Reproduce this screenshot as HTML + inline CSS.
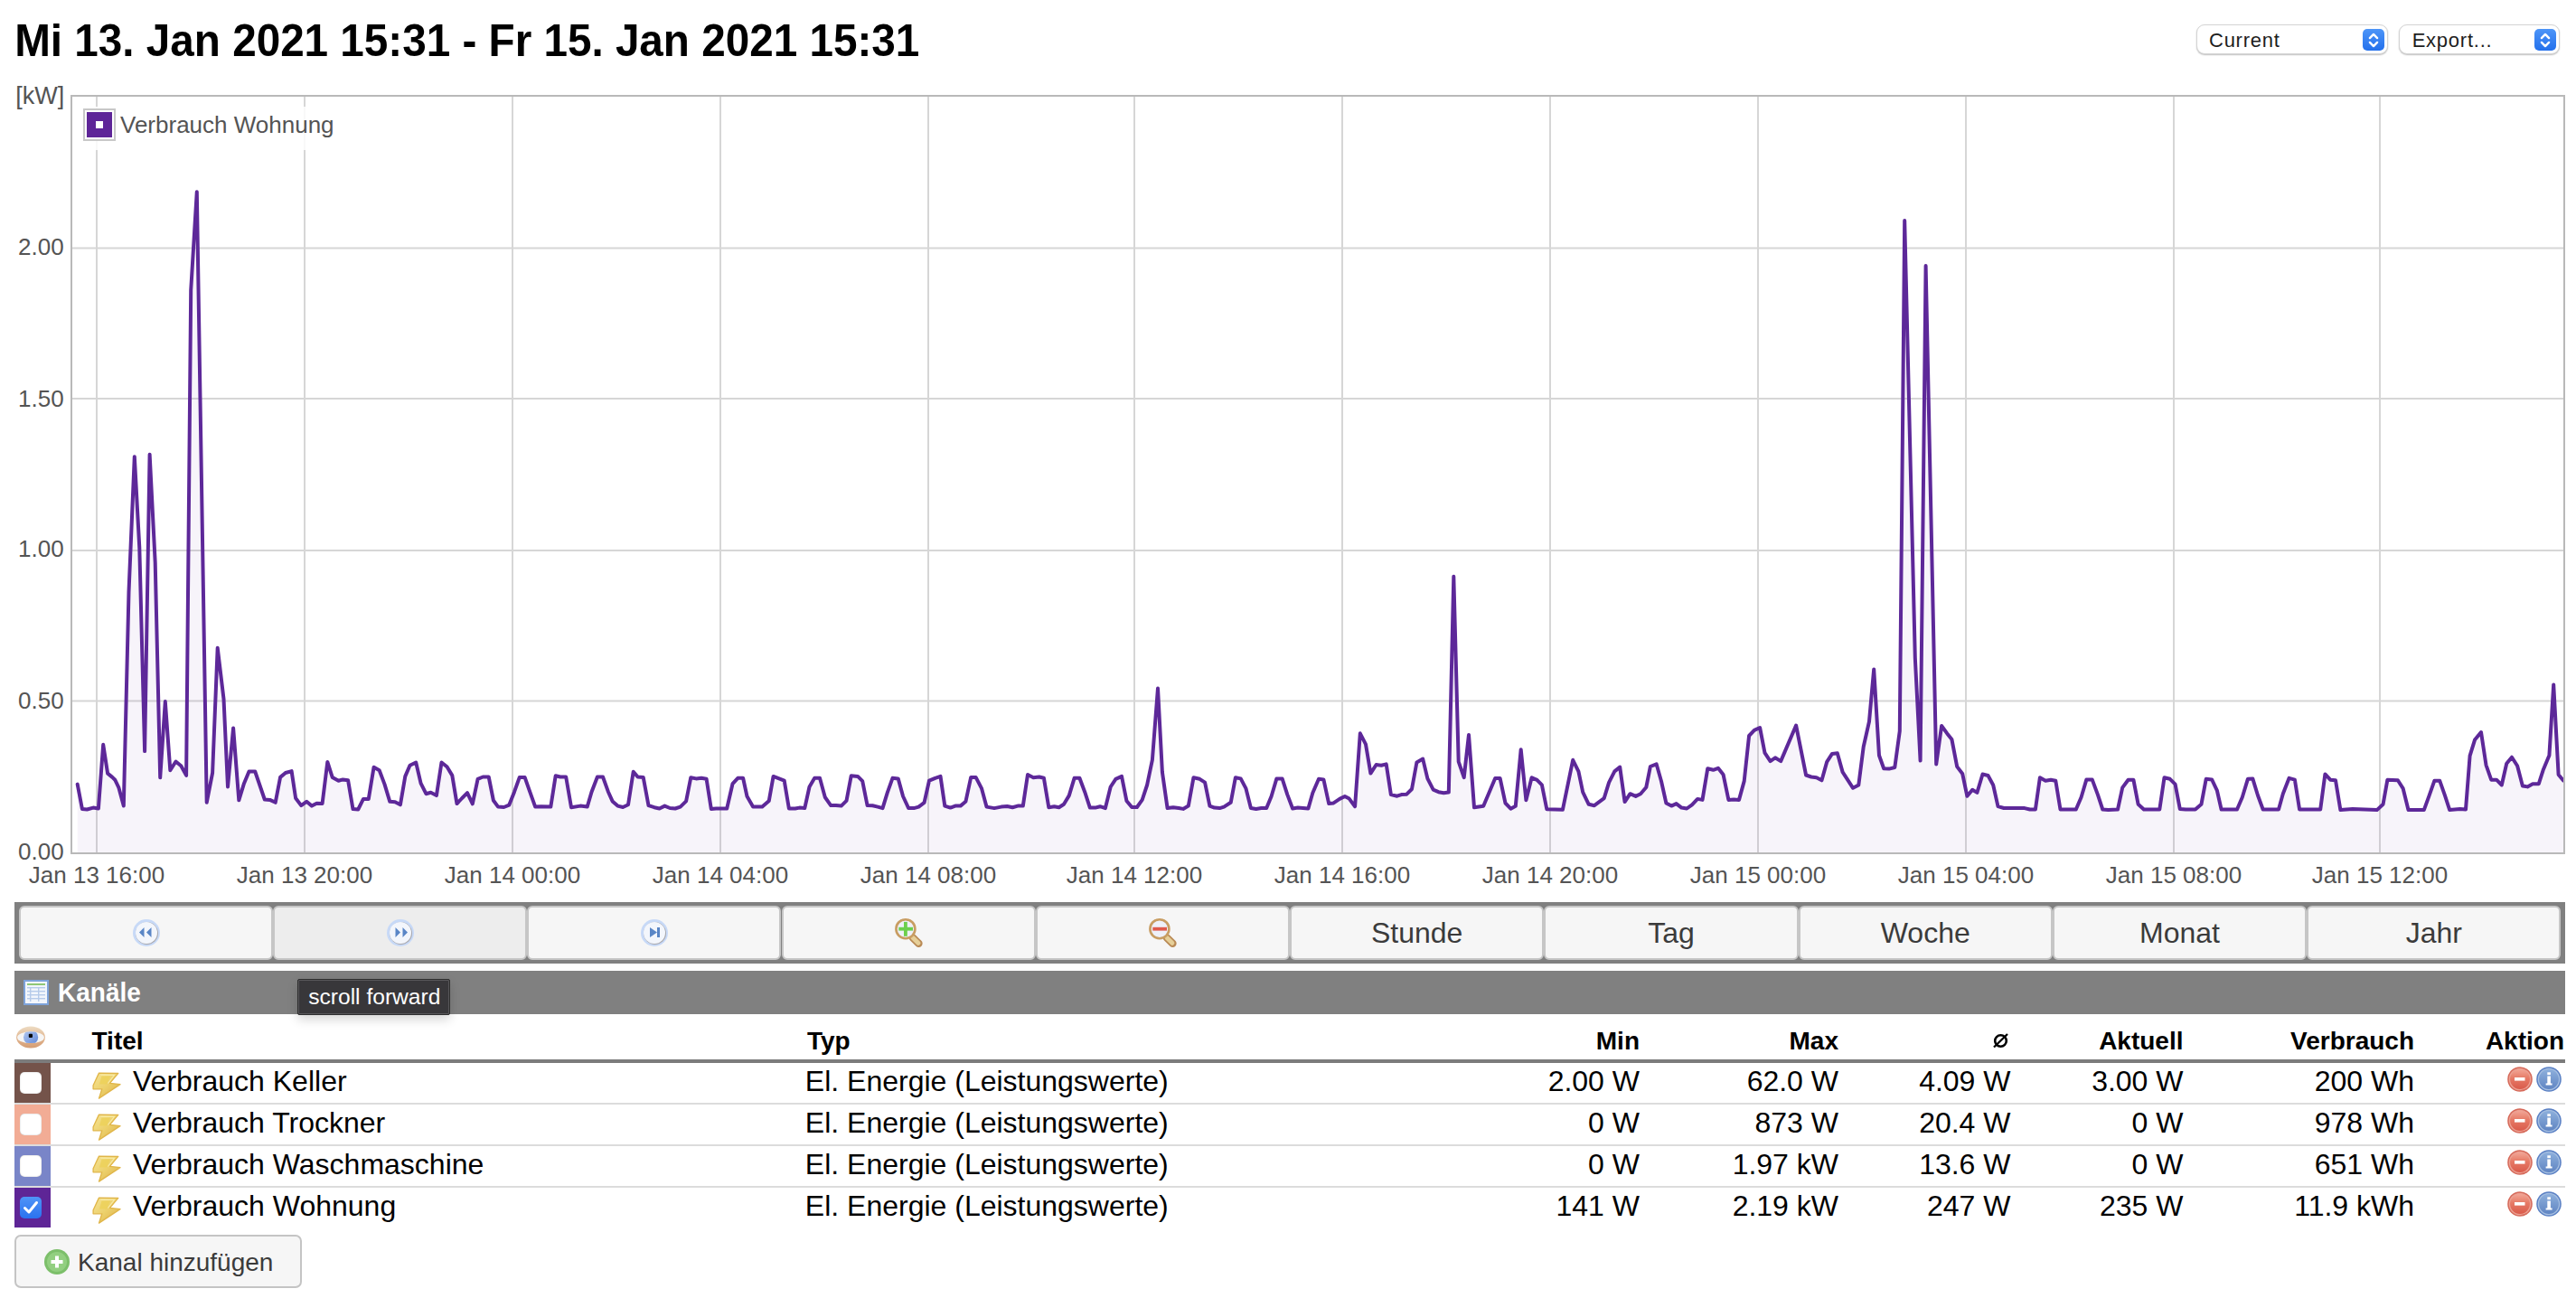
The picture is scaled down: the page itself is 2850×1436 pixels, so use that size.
<!DOCTYPE html>
<html lang="de">
<head>
<meta charset="utf-8">
<title>Volkszähler</title>
<style>
html,body{margin:0;padding:0;background:#fff;}
@media (max-width:2000px){html{zoom:0.5;}}
body{width:2850px;height:1436px;position:relative;overflow:hidden;font-family:"Liberation Sans",Arial,Helvetica,sans-serif;color:#000;}
.abs{position:absolute;}
.title{position:absolute;left:16.2px;top:22.3px;font-size:47.65px;line-height:47.65px;transform:scaleY(1.06);transform-origin:0 40.5px;font-weight:bold;white-space:nowrap;color:#000;}
.sel{position:absolute;top:27.4px;height:33px;border-radius:9px;background:#fff;border:1px solid #d4d4d4;box-shadow:0 1px 1.5px rgba(0,0,0,0.25);box-sizing:border-box;}
.sel .st{position:absolute;top:5.9px;font-size:22px;line-height:22px;letter-spacing:0.75px;color:#1d1d1d;transform:scaleY(1.03);transform-origin:0 18.6px;white-space:nowrap;}
.sel .sb{position:absolute;top:3.4px;width:24px;height:24px;border-radius:5px;background:linear-gradient(#4d95f8,#2370ec);}
.chart{position:absolute;left:0;top:0;}
.bar{position:absolute;left:16px;top:998px;width:2822px;height:68px;background:#808080;}
.btn{position:absolute;top:1002px;width:281.29px;height:59.6px;box-sizing:border-box;border:2px solid #c6c6c6;border-radius:6px;background:#f6f6f6;}
.btn.hov{background:#ededed;}
.btn .bt{position:absolute;left:0;right:0;top:12px;text-align:center;font-size:32px;line-height:32px;color:#3b3b3b;}
.btn .bi{position:absolute;left:122px;top:11px;width:34px;height:34px;}
.btn .bi svg{display:block;}
.kbar{position:absolute;left:16px;top:1074px;width:2822px;height:48px;background:#808080;}
.kbar .ti{position:absolute;left:10px;top:10px;}
.kbar .kt{position:absolute;left:48px;top:10.6px;font-size:28px;line-height:28px;font-weight:bold;color:#fff;transform:scaleY(1.05);transform-origin:0 24px;}
.tip{position:absolute;left:329.2px;top:1083.2px;width:169.3px;height:39.4px;box-sizing:border-box;background:#38373a;border:1px solid #2e2e2e;border-radius:2px;box-shadow:inset 0 0 0 1px #58575a,0 5px 12px rgba(0,0,0,0.16);}
.tip span{position:absolute;left:11px;top:6.9px;font-size:24.6px;line-height:24.6px;color:#fff;white-space:nowrap;}
.eye{position:absolute;left:17px;top:1135px;}
.th{position:absolute;top:1138.2px;font-size:28px;line-height:28px;font-weight:bold;white-space:nowrap;}
.r{text-align:right;}
.hline{position:absolute;left:16px;top:1172px;width:2822px;height:4px;background:#7c7c7c;}
.sw{position:absolute;left:16px;width:40px;height:44px;}
.sw svg,.sw .cbx{position:absolute;left:6px;top:10px;}
.cbx{width:24px;height:24px;border-radius:5px;background:#fff;box-shadow:inset 0 0 1.5px rgba(0,0,0,0.35);}
.sep{position:absolute;left:16px;width:2822px;height:2px;background:#dcdcdc;}
.bolt{position:absolute;left:101.5px;}
.bolt svg,.act svg{display:block;}
.t32{position:absolute;font-size:32px;line-height:32px;white-space:nowrap;color:#000;}
.act{position:absolute;}
.addbtn{position:absolute;left:16px;top:1366px;width:318px;height:58.5px;box-sizing:border-box;border:2px solid #c4c4c4;border-radius:7px;background:#f6f6f6;}
.addbtn .pi{position:absolute;left:29.5px;top:12.5px;}
.addbtn .pi svg{display:block;}
.addbtn .at{position:absolute;left:68px;top:14.8px;font-size:28px;line-height:28px;color:#3b3b3b;white-space:nowrap;}
</style>
</head>
<body>
<div class="title">Mi 13. Jan 2021 15:31 - Fr 15. Jan 2021 15:31</div>

<div class="sel" style="left:2430px;width:212px;"><span class="st" style="left:13px">Current</span><span class="sb" style="left:183px"><svg width="24" height="24" viewBox="0 0 24 24"><path d="M7.9 10.1 L12 5.9 L16.1 10.1 M7.9 14.9 L12 19.1 L16.1 14.9" fill="none" stroke="#fff" stroke-width="2.4" stroke-linecap="round" stroke-linejoin="round"/></svg></span></div>
<div class="sel" style="left:2654px;width:178px;"><span class="st" style="left:13.7px">Export...</span><span class="sb" style="left:149px"><svg width="24" height="24" viewBox="0 0 24 24"><path d="M7.9 10.1 L12 5.9 L16.1 10.1 M7.9 14.9 L12 19.1 L16.1 14.9" fill="none" stroke="#fff" stroke-width="2.4" stroke-linecap="round" stroke-linejoin="round"/></svg></span></div>

<svg class="chart" width="2850" height="1000" viewBox="0 0 2850 1000">
<line x1="107.0" y1="106" x2="107.0" y2="944" stroke="#d6d6d6" stroke-width="2"/>
<line x1="337.0" y1="106" x2="337.0" y2="944" stroke="#d6d6d6" stroke-width="2"/>
<line x1="567.0" y1="106" x2="567.0" y2="944" stroke="#d6d6d6" stroke-width="2"/>
<line x1="797.0" y1="106" x2="797.0" y2="944" stroke="#d6d6d6" stroke-width="2"/>
<line x1="1027.0" y1="106" x2="1027.0" y2="944" stroke="#d6d6d6" stroke-width="2"/>
<line x1="1255.0" y1="106" x2="1255.0" y2="944" stroke="#d6d6d6" stroke-width="2"/>
<line x1="1485.0" y1="106" x2="1485.0" y2="944" stroke="#d6d6d6" stroke-width="2"/>
<line x1="1715.0" y1="106" x2="1715.0" y2="944" stroke="#d6d6d6" stroke-width="2"/>
<line x1="1945.0" y1="106" x2="1945.0" y2="944" stroke="#d6d6d6" stroke-width="2"/>
<line x1="2175.0" y1="106" x2="2175.0" y2="944" stroke="#d6d6d6" stroke-width="2"/>
<line x1="2405.0" y1="106" x2="2405.0" y2="944" stroke="#d6d6d6" stroke-width="2"/>
<line x1="2633.0" y1="106" x2="2633.0" y2="944" stroke="#d6d6d6" stroke-width="2"/>
<line x1="79" y1="775.5" x2="2837" y2="775.5" stroke="#d6d6d6" stroke-width="2"/>
<line x1="79" y1="609.0" x2="2837" y2="609.0" stroke="#d6d6d6" stroke-width="2"/>
<line x1="79" y1="441.0" x2="2837" y2="441.0" stroke="#d6d6d6" stroke-width="2"/>
<line x1="79" y1="274.4" x2="2837" y2="274.4" stroke="#d6d6d6" stroke-width="2"/>
<path d="M85.7 867.6 L90.9 894.9 L96.3 895.5 L103.1 893.6 L108.9 894.5 L114.2 823.8 L119.1 855.6 L124.3 859.9 L127.2 862.7 L131.4 871.4 L136.8 891.5 L142.5 655 L148.8 505.2 L154.3 606.2 L160.1 831.1 L165.6 502.7 L171.7 622.4 L177.2 860.3 L182.8 776.1 L188.3 852.2 L194.5 842.5 L200.3 847.3 L206.1 857.9 L211.2 321 L217.8 212.2 L228.7 887.8 L235.1 855 L240.7 716.8 L247.5 773.2 L252 870.5 L258.1 805.5 L264.3 885.3 L269.7 867.6 L275.5 853.5 L282.2 853.5 L292.8 884.5 L298.6 884.9 L304.7 887.8 L310.1 859.9 L315.9 855 L322.6 853.1 L327.1 883 L333.2 891.1 L339.2 886.8 L345 891.6 L350.4 888.7 L356.6 889.1 L362.3 842.9 L367.7 859.9 L374.5 863.7 L379.3 862.4 L385.1 863.3 L390.5 895.1 L396.2 895.5 L402 883.9 L407.8 883.9 L413.6 848.7 L419.7 852.2 L425.5 867.6 L431.3 886.8 L437.1 887.2 L442.9 890.3 L448.3 858.9 L453.5 846.8 L460.2 843.5 L465.6 866.6 L471.4 878.2 L476.6 876.8 L482.9 880.1 L488.5 843.5 L494.5 848.3 L500.3 857.9 L505.5 889.1 L511.2 883 L517 877.2 L522.8 889.3 L528.6 861.8 L534.3 859.5 L540.7 859.5 L545.9 885.5 L551.1 892.6 L557.5 893 L563.2 890.7 L569 876.2 L574.8 859.9 L580.6 859.9 L586.3 876.2 L592.2 892.6 L598.7 892.2 L609.3 892.6 L614.7 858.3 L619.9 859.5 L626.2 859.5 L632 893.2 L642 891.6 L649.7 892.6 L654.5 876.2 L660.9 859.5 L667 859.5 L672.8 875.7 L677.6 886.4 L683.4 891.6 L689.2 893 L695 890.3 L700.7 853.7 L705.6 859.5 L711.7 859.9 L717.5 891.1 L723.9 893.2 L729.6 894.5 L735.4 891.6 L741.2 894 L747 894.5 L752.7 892.6 L759.1 886.4 L764.3 860.2 L770.1 861.4 L775.9 860.8 L781.6 861.8 L786.8 894.9 L792.2 894.5 L804.2 894.5 L810.5 867.2 L816.3 860.8 L822.1 860.8 L826.5 881 L833.1 892.6 L843.3 892.6 L850.8 885.9 L855.6 858.9 L862 861.4 L867.7 863.7 L872.9 894.5 L879.7 894.5 L884.5 893.6 L890.3 894.1 L895.5 870.5 L901.2 860.8 L907 860.8 L912.8 882 L919.2 891.1 L924.9 891.1 L930.7 891.6 L936.5 885.9 L941.7 858.3 L949 858.9 L954.2 864.1 L959.6 891.1 L965.4 891.3 L971.2 892.6 L976.5 894.1 L981.7 877.2 L987.5 860.8 L993.7 861.4 L999.1 881 L1005.2 894.1 L1011 894.1 L1016.4 892.6 L1022.6 887.8 L1028 863.7 L1034.7 860.8 L1040.5 858.9 L1045.3 891.6 L1051.5 893.6 L1056.9 891.6 L1062.6 891.6 L1068.4 886.8 L1074.2 859.9 L1079.6 859.9 L1086.1 872.4 L1091.5 892.6 L1097.3 893.6 L1100 894.1 L1107.7 892.6 L1114.4 892 L1120.2 893.2 L1126 891.6 L1131.8 891.6 L1137 857 L1143.3 860.2 L1149.7 859.5 L1154.9 860.8 L1160.3 893.2 L1166.4 892.2 L1171.6 893.2 L1177 889.7 L1182.8 880.1 L1188.6 860.8 L1194.4 860.8 L1200.2 876.2 L1205.9 893.6 L1211.7 893.6 L1217.1 892.2 L1222.9 894.1 L1228.7 870.5 L1234.4 861.8 L1241 858.9 L1246.4 885.9 L1252.2 893 L1257.9 893 L1263.7 884.9 L1269.1 868.5 L1274.9 840.6 L1281 761.6 L1285.9 854.1 L1291.6 894.1 L1298 893.2 L1304.2 894.1 L1309 894.9 L1314.8 891.6 L1320.5 860.2 L1327.3 861.8 L1333.1 865.6 L1338.4 891.6 L1343.6 893.6 L1349.4 894.1 L1354.2 892.6 L1361.7 887.8 L1366.9 860.2 L1372.7 861.4 L1378.5 872.4 L1383.9 894.1 L1389.7 894.9 L1395.4 894.1 L1401.2 894.1 L1406.6 881 L1412.4 861.4 L1418.6 861.4 L1424.3 879.1 L1430.1 894.5 L1435.9 893.6 L1447.4 894.5 L1452.3 877.2 L1459 861.8 L1464.4 862.4 L1470.2 889.1 L1475.4 888.4 L1482.1 883.9 L1487.9 881 L1492.7 883.6 L1499.1 892.2 L1504.8 811.3 L1511 823.3 L1516.4 855.6 L1522.6 846 L1528.3 846.8 L1533.7 845.4 L1538.9 879.1 L1545.7 880.7 L1550.5 879.1 L1556.3 878.7 L1562 873 L1567.4 843.5 L1574.2 839.6 L1579.4 861.4 L1585.7 873.7 L1591.5 876.2 L1597.3 877.2 L1602.8 876.6 L1608.3 637.7 L1613.7 842.7 L1619.7 860.2 L1625 813 L1631 893.3 L1641.2 891.7 L1654.2 861 L1659.6 861 L1665.5 888.5 L1671.4 894.7 L1676.8 891.7 L1682.7 829.2 L1688.4 885.3 L1694.6 860.2 L1700.5 862.9 L1705.9 868.3 L1711.3 895.2 L1728.9 895.8 L1740.2 840.8 L1746.4 853.4 L1751.2 876.4 L1757.7 889.8 L1763.9 891.2 L1774.7 883.1 L1780.1 865.6 L1786.3 853.4 L1792.2 848.6 L1797.6 887.1 L1803.5 878.2 L1809.7 880.9 L1815.1 878.2 L1821.3 871 L1825.9 848 L1832.6 845.3 L1838 864.2 L1843.4 888.5 L1849.2 891.6 L1854.6 889.1 L1860.4 893.6 L1866.2 894.5 L1872 890.3 L1878.1 883.9 L1883.5 884.9 L1889.3 850.2 L1895.5 851.8 L1900.9 849.8 L1906.6 857 L1912.4 884.9 L1918.2 884.5 L1924 884.9 L1929.7 864.1 L1935.1 814 L1940.9 807.9 L1947.1 805 L1952.5 832.9 L1958.6 842.1 L1964 838.3 L1970.2 842.1 L1987.1 802.5 L1998.1 857.5 L2003.9 859.5 L2009.7 860.2 L2015.5 863.3 L2021.2 842.9 L2027 833.9 L2032.8 833.3 L2038.6 854.1 L2050.1 871.8 L2056.3 868.5 L2061.7 826.2 L2068 798.2 L2073.2 740.4 L2079 835.8 L2084.2 850.2 L2090 850.6 L2096.3 849 L2101.8 808.8 L2107.2 244 L2118.8 727.6 L2124.6 841.6 L2130.6 294 L2142.2 845.5 L2148.1 803 L2154.2 811.4 L2159.4 818 L2165.2 848.1 L2171.2 856 L2176.4 880.8 L2182.2 873.8 L2187.4 876.9 L2193.5 856.5 L2199.5 858 L2205.2 868.5 L2210.5 892.1 L2217 894 L2231.4 894 L2240 894.1 L2245.8 895.5 L2251.9 895.5 L2256.9 860.2 L2263.1 863.7 L2268.9 862.7 L2274.3 863.7 L2279.5 895.5 L2296.8 895.5 L2302.6 882 L2308.4 862.4 L2314.7 862.4 L2320.9 879.1 L2326.3 895.5 L2332.5 896.1 L2343 895.5 L2348.2 871.4 L2354.6 862.7 L2360.4 862.7 L2365.6 889.7 L2371.9 895.5 L2389.3 895.5 L2394.5 860.2 L2400.8 861.8 L2406.6 867.6 L2411.8 894.9 L2418.2 895.5 L2428.8 895.5 L2435.5 889.7 L2440.7 861.8 L2447.1 862.4 L2452.8 874.3 L2457.6 895.5 L2475 895.5 L2480.8 882 L2486.9 861.8 L2492.3 861.4 L2498 880 L2503.7 895.5 L2521 895.5 L2525.8 878.2 L2532.6 860.8 L2538.9 862.7 L2544.1 895.5 L2567.2 895.5 L2572.4 856.4 L2578.2 862.7 L2584 863.3 L2589.4 896.1 L2602.9 894.9 L2629.8 896.1 L2636.6 889.7 L2641.4 862.7 L2652.9 863.3 L2658.7 872.4 L2664.5 896.1 L2681.8 896.1 L2687.6 880.1 L2693.4 863.7 L2699.2 863.7 L2705 880.1 L2710.2 896.1 L2721.7 894.9 L2728 895.5 L2732.6 836.2 L2738 818.6 L2745 810 L2750.5 846.3 L2756.2 862.7 L2762 862.7 L2767.8 868.5 L2773.2 844.8 L2779 837.7 L2785.1 847.3 L2790.9 869.5 L2796.3 870.4 L2802.1 867.2 L2808.8 867.2 L2813.6 852.1 L2820.4 835.8 L2825.2 757.4 L2830.6 856.9 L2836 863.5 L2836 944 L85.7 944 Z" fill="#5e2a96" fill-opacity="0.052" stroke="none"/>
<path d="M85.7 867.6 L90.9 894.9 L96.3 895.5 L103.1 893.6 L108.9 894.5 L114.2 823.8 L119.1 855.6 L124.3 859.9 L127.2 862.7 L131.4 871.4 L136.8 891.5 L142.5 655 L148.8 505.2 L154.3 606.2 L160.1 831.1 L165.6 502.7 L171.7 622.4 L177.2 860.3 L182.8 776.1 L188.3 852.2 L194.5 842.5 L200.3 847.3 L206.1 857.9 L211.2 321 L217.8 212.2 L228.7 887.8 L235.1 855 L240.7 716.8 L247.5 773.2 L252 870.5 L258.1 805.5 L264.3 885.3 L269.7 867.6 L275.5 853.5 L282.2 853.5 L292.8 884.5 L298.6 884.9 L304.7 887.8 L310.1 859.9 L315.9 855 L322.6 853.1 L327.1 883 L333.2 891.1 L339.2 886.8 L345 891.6 L350.4 888.7 L356.6 889.1 L362.3 842.9 L367.7 859.9 L374.5 863.7 L379.3 862.4 L385.1 863.3 L390.5 895.1 L396.2 895.5 L402 883.9 L407.8 883.9 L413.6 848.7 L419.7 852.2 L425.5 867.6 L431.3 886.8 L437.1 887.2 L442.9 890.3 L448.3 858.9 L453.5 846.8 L460.2 843.5 L465.6 866.6 L471.4 878.2 L476.6 876.8 L482.9 880.1 L488.5 843.5 L494.5 848.3 L500.3 857.9 L505.5 889.1 L511.2 883 L517 877.2 L522.8 889.3 L528.6 861.8 L534.3 859.5 L540.7 859.5 L545.9 885.5 L551.1 892.6 L557.5 893 L563.2 890.7 L569 876.2 L574.8 859.9 L580.6 859.9 L586.3 876.2 L592.2 892.6 L598.7 892.2 L609.3 892.6 L614.7 858.3 L619.9 859.5 L626.2 859.5 L632 893.2 L642 891.6 L649.7 892.6 L654.5 876.2 L660.9 859.5 L667 859.5 L672.8 875.7 L677.6 886.4 L683.4 891.6 L689.2 893 L695 890.3 L700.7 853.7 L705.6 859.5 L711.7 859.9 L717.5 891.1 L723.9 893.2 L729.6 894.5 L735.4 891.6 L741.2 894 L747 894.5 L752.7 892.6 L759.1 886.4 L764.3 860.2 L770.1 861.4 L775.9 860.8 L781.6 861.8 L786.8 894.9 L792.2 894.5 L804.2 894.5 L810.5 867.2 L816.3 860.8 L822.1 860.8 L826.5 881 L833.1 892.6 L843.3 892.6 L850.8 885.9 L855.6 858.9 L862 861.4 L867.7 863.7 L872.9 894.5 L879.7 894.5 L884.5 893.6 L890.3 894.1 L895.5 870.5 L901.2 860.8 L907 860.8 L912.8 882 L919.2 891.1 L924.9 891.1 L930.7 891.6 L936.5 885.9 L941.7 858.3 L949 858.9 L954.2 864.1 L959.6 891.1 L965.4 891.3 L971.2 892.6 L976.5 894.1 L981.7 877.2 L987.5 860.8 L993.7 861.4 L999.1 881 L1005.2 894.1 L1011 894.1 L1016.4 892.6 L1022.6 887.8 L1028 863.7 L1034.7 860.8 L1040.5 858.9 L1045.3 891.6 L1051.5 893.6 L1056.9 891.6 L1062.6 891.6 L1068.4 886.8 L1074.2 859.9 L1079.6 859.9 L1086.1 872.4 L1091.5 892.6 L1097.3 893.6 L1100 894.1 L1107.7 892.6 L1114.4 892 L1120.2 893.2 L1126 891.6 L1131.8 891.6 L1137 857 L1143.3 860.2 L1149.7 859.5 L1154.9 860.8 L1160.3 893.2 L1166.4 892.2 L1171.6 893.2 L1177 889.7 L1182.8 880.1 L1188.6 860.8 L1194.4 860.8 L1200.2 876.2 L1205.9 893.6 L1211.7 893.6 L1217.1 892.2 L1222.9 894.1 L1228.7 870.5 L1234.4 861.8 L1241 858.9 L1246.4 885.9 L1252.2 893 L1257.9 893 L1263.7 884.9 L1269.1 868.5 L1274.9 840.6 L1281 761.6 L1285.9 854.1 L1291.6 894.1 L1298 893.2 L1304.2 894.1 L1309 894.9 L1314.8 891.6 L1320.5 860.2 L1327.3 861.8 L1333.1 865.6 L1338.4 891.6 L1343.6 893.6 L1349.4 894.1 L1354.2 892.6 L1361.7 887.8 L1366.9 860.2 L1372.7 861.4 L1378.5 872.4 L1383.9 894.1 L1389.7 894.9 L1395.4 894.1 L1401.2 894.1 L1406.6 881 L1412.4 861.4 L1418.6 861.4 L1424.3 879.1 L1430.1 894.5 L1435.9 893.6 L1447.4 894.5 L1452.3 877.2 L1459 861.8 L1464.4 862.4 L1470.2 889.1 L1475.4 888.4 L1482.1 883.9 L1487.9 881 L1492.7 883.6 L1499.1 892.2 L1504.8 811.3 L1511 823.3 L1516.4 855.6 L1522.6 846 L1528.3 846.8 L1533.7 845.4 L1538.9 879.1 L1545.7 880.7 L1550.5 879.1 L1556.3 878.7 L1562 873 L1567.4 843.5 L1574.2 839.6 L1579.4 861.4 L1585.7 873.7 L1591.5 876.2 L1597.3 877.2 L1602.8 876.6 L1608.3 637.7 L1613.7 842.7 L1619.7 860.2 L1625 813 L1631 893.3 L1641.2 891.7 L1654.2 861 L1659.6 861 L1665.5 888.5 L1671.4 894.7 L1676.8 891.7 L1682.7 829.2 L1688.4 885.3 L1694.6 860.2 L1700.5 862.9 L1705.9 868.3 L1711.3 895.2 L1728.9 895.8 L1740.2 840.8 L1746.4 853.4 L1751.2 876.4 L1757.7 889.8 L1763.9 891.2 L1774.7 883.1 L1780.1 865.6 L1786.3 853.4 L1792.2 848.6 L1797.6 887.1 L1803.5 878.2 L1809.7 880.9 L1815.1 878.2 L1821.3 871 L1825.9 848 L1832.6 845.3 L1838 864.2 L1843.4 888.5 L1849.2 891.6 L1854.6 889.1 L1860.4 893.6 L1866.2 894.5 L1872 890.3 L1878.1 883.9 L1883.5 884.9 L1889.3 850.2 L1895.5 851.8 L1900.9 849.8 L1906.6 857 L1912.4 884.9 L1918.2 884.5 L1924 884.9 L1929.7 864.1 L1935.1 814 L1940.9 807.9 L1947.1 805 L1952.5 832.9 L1958.6 842.1 L1964 838.3 L1970.2 842.1 L1987.1 802.5 L1998.1 857.5 L2003.9 859.5 L2009.7 860.2 L2015.5 863.3 L2021.2 842.9 L2027 833.9 L2032.8 833.3 L2038.6 854.1 L2050.1 871.8 L2056.3 868.5 L2061.7 826.2 L2068 798.2 L2073.2 740.4 L2079 835.8 L2084.2 850.2 L2090 850.6 L2096.3 849 L2101.8 808.8 L2107.2 244 L2118.8 727.6 L2124.6 841.6 L2130.6 294 L2142.2 845.5 L2148.1 803 L2154.2 811.4 L2159.4 818 L2165.2 848.1 L2171.2 856 L2176.4 880.8 L2182.2 873.8 L2187.4 876.9 L2193.5 856.5 L2199.5 858 L2205.2 868.5 L2210.5 892.1 L2217 894 L2231.4 894 L2240 894.1 L2245.8 895.5 L2251.9 895.5 L2256.9 860.2 L2263.1 863.7 L2268.9 862.7 L2274.3 863.7 L2279.5 895.5 L2296.8 895.5 L2302.6 882 L2308.4 862.4 L2314.7 862.4 L2320.9 879.1 L2326.3 895.5 L2332.5 896.1 L2343 895.5 L2348.2 871.4 L2354.6 862.7 L2360.4 862.7 L2365.6 889.7 L2371.9 895.5 L2389.3 895.5 L2394.5 860.2 L2400.8 861.8 L2406.6 867.6 L2411.8 894.9 L2418.2 895.5 L2428.8 895.5 L2435.5 889.7 L2440.7 861.8 L2447.1 862.4 L2452.8 874.3 L2457.6 895.5 L2475 895.5 L2480.8 882 L2486.9 861.8 L2492.3 861.4 L2498 880 L2503.7 895.5 L2521 895.5 L2525.8 878.2 L2532.6 860.8 L2538.9 862.7 L2544.1 895.5 L2567.2 895.5 L2572.4 856.4 L2578.2 862.7 L2584 863.3 L2589.4 896.1 L2602.9 894.9 L2629.8 896.1 L2636.6 889.7 L2641.4 862.7 L2652.9 863.3 L2658.7 872.4 L2664.5 896.1 L2681.8 896.1 L2687.6 880.1 L2693.4 863.7 L2699.2 863.7 L2705 880.1 L2710.2 896.1 L2721.7 894.9 L2728 895.5 L2732.6 836.2 L2738 818.6 L2745 810 L2750.5 846.3 L2756.2 862.7 L2762 862.7 L2767.8 868.5 L2773.2 844.8 L2779 837.7 L2785.1 847.3 L2790.9 869.5 L2796.3 870.4 L2802.1 867.2 L2808.8 867.2 L2813.6 852.1 L2820.4 835.8 L2825.2 757.4 L2830.6 856.9 L2836 863.5" fill="none" stroke="#5d2899" stroke-width="4" stroke-linejoin="round" stroke-linecap="round"/>
<rect x="79" y="106" width="2758" height="838" fill="none" stroke="#b9b9b9" stroke-width="2"/>
<rect x="88" y="118" width="284" height="48" fill="#fff" fill-opacity="0.85"/>
<rect x="93" y="121" width="34" height="34" fill="#fff" stroke="#c8c8c8" stroke-width="2"/>
<rect x="101" y="129" width="18" height="18" fill="#fff" stroke="#5e2598" stroke-width="10"/>
<text x="133" y="147" font-family="Liberation Sans, Arial, sans-serif" font-size="26" fill="#545454">Verbrauch Wohnung</text>
<text x="70.6" y="950.8" text-anchor="end" font-family="Liberation Sans, Arial, sans-serif" font-size="26" fill="#545454">0.00</text>
<text x="70.6" y="784.3" text-anchor="end" font-family="Liberation Sans, Arial, sans-serif" font-size="26" fill="#545454">0.50</text>
<text x="70.6" y="615.9" text-anchor="end" font-family="Liberation Sans, Arial, sans-serif" font-size="26" fill="#545454">1.00</text>
<text x="70.6" y="449.8" text-anchor="end" font-family="Liberation Sans, Arial, sans-serif" font-size="26" fill="#545454">1.50</text>
<text x="70.6" y="281.7" text-anchor="end" font-family="Liberation Sans, Arial, sans-serif" font-size="26" fill="#545454">2.00</text>
<text x="71.3" y="114.6" text-anchor="end" font-family="Liberation Sans, Arial, sans-serif" font-size="27" fill="#545454">[kW]</text>
<text x="107.0" y="977" text-anchor="middle" font-family="Liberation Sans, Arial, sans-serif" font-size="26" fill="#545454">Jan 13 16:00</text>
<text x="337.0" y="977" text-anchor="middle" font-family="Liberation Sans, Arial, sans-serif" font-size="26" fill="#545454">Jan 13 20:00</text>
<text x="567.0" y="977" text-anchor="middle" font-family="Liberation Sans, Arial, sans-serif" font-size="26" fill="#545454">Jan 14 00:00</text>
<text x="797.0" y="977" text-anchor="middle" font-family="Liberation Sans, Arial, sans-serif" font-size="26" fill="#545454">Jan 14 04:00</text>
<text x="1027.0" y="977" text-anchor="middle" font-family="Liberation Sans, Arial, sans-serif" font-size="26" fill="#545454">Jan 14 08:00</text>
<text x="1255.0" y="977" text-anchor="middle" font-family="Liberation Sans, Arial, sans-serif" font-size="26" fill="#545454">Jan 14 12:00</text>
<text x="1485.0" y="977" text-anchor="middle" font-family="Liberation Sans, Arial, sans-serif" font-size="26" fill="#545454">Jan 14 16:00</text>
<text x="1715.0" y="977" text-anchor="middle" font-family="Liberation Sans, Arial, sans-serif" font-size="26" fill="#545454">Jan 14 20:00</text>
<text x="1945.0" y="977" text-anchor="middle" font-family="Liberation Sans, Arial, sans-serif" font-size="26" fill="#545454">Jan 15 00:00</text>
<text x="2175.0" y="977" text-anchor="middle" font-family="Liberation Sans, Arial, sans-serif" font-size="26" fill="#545454">Jan 15 04:00</text>
<text x="2405.0" y="977" text-anchor="middle" font-family="Liberation Sans, Arial, sans-serif" font-size="26" fill="#545454">Jan 15 08:00</text>
<text x="2633.0" y="977" text-anchor="middle" font-family="Liberation Sans, Arial, sans-serif" font-size="26" fill="#545454">Jan 15 12:00</text>
</svg>

<div class="bar"></div>
<div class="btn" style="left:20.6px"><span class="bi"><svg width="34" height="34" viewBox="0 0 34 34"><circle cx="17" cy="17" r="15" fill="#c7d9f7"/><circle cx="17.5" cy="17.5" r="12.5" fill="#a9a9ad"/><circle cx="17" cy="17" r="12" fill="#f3f6fc"/><path d="M9 16.5 L14.5 11 L14.5 22 Z M17 16.5 L22.5 11 L22.5 22 Z" fill="#5a86c6"/></svg></span></div>
<div class="btn hov" style="left:301.9px"><span class="bi"><svg width="34" height="34" viewBox="0 0 34 34"><circle cx="17" cy="17" r="15" fill="#c7d9f7"/><circle cx="17.5" cy="17.5" r="12.5" fill="#a9a9ad"/><circle cx="17" cy="17" r="12" fill="#f3f6fc"/><path d="M25 16.5 L19.5 11 L19.5 22 Z M17 16.5 L11.5 11 L11.5 22 Z" fill="#5a86c6"/></svg></span></div>
<div class="btn" style="left:583.2px"><span class="bi"><svg width="34" height="34" viewBox="0 0 34 34"><circle cx="17" cy="17" r="15" fill="#c7d9f7"/><circle cx="17.5" cy="17.5" r="12.5" fill="#a9a9ad"/><circle cx="17" cy="17" r="12" fill="#f3f6fc"/><path d="M12 11 L20 16.5 L12 22 Z" fill="#5a86c6"/><rect x="20" y="11" width="3" height="11" fill="#5a86c6"/></svg></span></div>
<div class="btn" style="left:864.5px"><span class="bi"><svg width="34" height="34" viewBox="0 0 34 34"><line x1="21" y1="22.5" x2="27.4" y2="28.8" stroke="#b98a55" stroke-width="8.5" stroke-linecap="round"/><line x1="21" y1="22.5" x2="26.9" y2="28.3" stroke="#e6cf98" stroke-width="5" stroke-linecap="round"/><circle cx="12.9" cy="12.7" r="10.5" fill="#eef0f8" stroke="#c89d62" stroke-width="2.6"/><rect x="5.3" y="10.8" width="15.7" height="3.8" fill="#6ccf4c"/><rect x="11" y="4.9" width="3.8" height="15.9" fill="#6ccf4c"/></svg></span></div>
<div class="btn" style="left:1145.8px"><span class="bi"><svg width="34" height="34" viewBox="0 0 34 34"><line x1="21" y1="22.5" x2="27.4" y2="28.8" stroke="#b98a55" stroke-width="8.5" stroke-linecap="round"/><line x1="21" y1="22.5" x2="26.9" y2="28.3" stroke="#e6cf98" stroke-width="5" stroke-linecap="round"/><circle cx="12.9" cy="12.7" r="10.5" fill="#eef0f8" stroke="#c89d62" stroke-width="2.6"/><rect x="5.3" y="10.8" width="15.7" height="3.8" fill="#e05a4c"/></svg></span></div>
<div class="btn" style="left:1427.0px"><span class="bt">Stunde</span></div>
<div class="btn" style="left:1708.3px"><span class="bt">Tag</span></div>
<div class="btn" style="left:1989.6px"><span class="bt">Woche</span></div>
<div class="btn" style="left:2270.9px"><span class="bt">Monat</span></div>
<div class="btn" style="left:2552.2px"><span class="bt">Jahr</span></div>

<div class="kbar"><span class="ti"><svg width="28" height="28" viewBox="0 0 28 28"><rect x="1" y="1" width="26" height="26" fill="#f2f6fc" stroke="#7ea3da" stroke-width="2"/><rect x="4" y="4" width="20" height="2" fill="#8fc776"/><g fill="#b6cbea"><rect x="4" y="8" width="20" height="1.4"/><rect x="4" y="12" width="20" height="1.4"/><rect x="4" y="16" width="20" height="1.4"/><rect x="4" y="20" width="20" height="1.4"/><rect x="7" y="8" width="1.4" height="16"/><rect x="16" y="8" width="1.4" height="16"/></g></svg></span><span class="kt">Kanäle</span></div>
<div class="tip"><span>scroll forward</span></div>

<div class="eye"><svg width="34" height="26" viewBox="0 0 34 26"><defs><linearGradient id="lid" x1="0" y1="0" x2="0" y2="1"><stop offset="0" stop-color="#eddcc4"/><stop offset="0.5" stop-color="#e2b892"/><stop offset="1" stop-color="#d49c74"/></linearGradient><linearGradient id="iris" x1="0" y1="0" x2="1" y2="1"><stop offset="0" stop-color="#b3c8f0"/><stop offset="1" stop-color="#6088d8"/></linearGradient><clipPath id="scl"><ellipse cx="17" cy="12.7" rx="14.9" ry="6.4"/></clipPath></defs><ellipse cx="17" cy="12.5" rx="15.9" ry="12.1" fill="url(#lid)"/><ellipse cx="17" cy="12.7" rx="14.9" ry="6.4" fill="#f5f5f5"/><circle cx="17.1" cy="12.6" r="8.1" fill="url(#iris)" clip-path="url(#scl)"/><rect x="14.8" y="8.7" width="4.2" height="4.2" rx="1" fill="#060606"/></svg></div>
<div class="th" style="left:101.5px">Titel</div>
<div class="th" style="left:893px">Typ</div>
<div class="th r" style="right:1036px">Min</div>
<div class="th r" style="right:816px">Max</div>
<div class="abs" style="left:2204px;top:1141.5px"><svg width="19" height="18" viewBox="0 0 19 18" style="display:block"><circle cx="9.5" cy="9.5" r="6.3" fill="none" stroke="#000" stroke-width="2.6"/><line x1="2" y1="16.5" x2="17" y2="2" stroke="#000" stroke-width="2.4"/></svg></div>
<div class="th r" style="right:434.5px">Aktuell</div>
<div class="th r" style="right:179px">Verbrauch</div>
<div class="th r" style="right:13px">Aktion</div>
<div class="hline"></div>

<div class="sw" style="top:1176px;background:#74534a"><div class="cbx"></div></div>
<div class="sep" style="top:1220px"></div>
<div class="bolt" style="top:1186px"><svg width="32" height="30" viewBox="0 0 32 30"><defs><linearGradient id="bg" x1="0" y1="0" x2="1" y2="1"><stop offset="0" stop-color="#f6e497"/><stop offset="0.5" stop-color="#ecd06a"/><stop offset="1" stop-color="#dcae4a"/></linearGradient></defs><path d="M7.5 1.1 L28.8 1.3 L19.5 12.4 L31 13.6 L7.5 29.1 L10.8 18.8 L1.1 18.8 L1.1 14.7 Z" fill="url(#bg)" stroke="#e0b548" stroke-width="1.3" stroke-linejoin="round"/><path d="M10.5 4.5 L20 4.5 L16 13.5 L8 13.5 Z" fill="#ecd158" opacity="0.8"/><path d="M9.5 3.2 L24.5 3.3 L17.5 12.5" fill="none" stroke="#f8eaa6" stroke-width="1.2"/></svg></div>
<div class="t32" style="left:147px;top:1179.9px">Verbrauch Keller</div>
<div class="t32" style="left:890.8px;top:1179.9px">El. Energie (Leistungswerte)</div>
<div class="t32 r" style="right:1036px;top:1179.9px">2.00 W</div>
<div class="t32 r" style="right:816px;top:1179.9px">62.0 W</div>
<div class="t32 r" style="right:625.5px;top:1179.9px">4.09 W</div>
<div class="t32 r" style="right:434.5px;top:1179.9px">3.00 W</div>
<div class="t32 r" style="right:179px;top:1179.9px">200 Wh</div>
<div class="act" style="left:2773px;top:1179px"><svg width="30" height="30" viewBox="0 0 30 30"><defs><linearGradient id="rg" x1="0" y1="0" x2="0" y2="1"><stop offset="0" stop-color="#f2a898"/><stop offset="0.45" stop-color="#e67a66"/><stop offset="1" stop-color="#d9594a"/></linearGradient></defs><circle cx="15" cy="15" r="13.8" fill="#d66a5a"/><circle cx="15" cy="15" r="11.6" fill="url(#rg)" stroke="#eca193" stroke-width="1.4"/><rect x="9" y="13" width="11.5" height="3.6" fill="#fff"/></svg></div>
<div class="act" style="left:2805px;top:1179px"><svg width="30" height="30" viewBox="0 0 30 30"><defs><linearGradient id="bgr" x1="0" y1="0" x2="0" y2="1"><stop offset="0" stop-color="#8eb0dc"/><stop offset="1" stop-color="#5f84c2"/></linearGradient></defs><circle cx="15" cy="15" r="13.8" fill="#5a80c4"/><circle cx="15" cy="15" r="11.6" fill="url(#bgr)" stroke="#a6bfe0" stroke-width="1.4"/><rect x="13.3" y="7.3" width="3.6" height="2.8" fill="#fff"/><path d="M13.3 11.6 L16.9 11.6 L16.9 19.6 L18.6 19.6 L18.6 21.6 L11.6 21.6 L11.6 19.6 L13.3 19.6 Z" fill="#fff"/></svg></div>
<div class="sw" style="top:1222px;background:#f2ac95"><div class="cbx"></div></div>
<div class="sep" style="top:1266px"></div>
<div class="bolt" style="top:1232px"><svg width="32" height="30" viewBox="0 0 32 30"><defs><linearGradient id="bg" x1="0" y1="0" x2="1" y2="1"><stop offset="0" stop-color="#f6e497"/><stop offset="0.5" stop-color="#ecd06a"/><stop offset="1" stop-color="#dcae4a"/></linearGradient></defs><path d="M7.5 1.1 L28.8 1.3 L19.5 12.4 L31 13.6 L7.5 29.1 L10.8 18.8 L1.1 18.8 L1.1 14.7 Z" fill="url(#bg)" stroke="#e0b548" stroke-width="1.3" stroke-linejoin="round"/><path d="M10.5 4.5 L20 4.5 L16 13.5 L8 13.5 Z" fill="#ecd158" opacity="0.8"/><path d="M9.5 3.2 L24.5 3.3 L17.5 12.5" fill="none" stroke="#f8eaa6" stroke-width="1.2"/></svg></div>
<div class="t32" style="left:147px;top:1225.9px">Verbrauch Trockner</div>
<div class="t32" style="left:890.8px;top:1225.9px">El. Energie (Leistungswerte)</div>
<div class="t32 r" style="right:1036px;top:1225.9px">0 W</div>
<div class="t32 r" style="right:816px;top:1225.9px">873 W</div>
<div class="t32 r" style="right:625.5px;top:1225.9px">20.4 W</div>
<div class="t32 r" style="right:434.5px;top:1225.9px">0 W</div>
<div class="t32 r" style="right:179px;top:1225.9px">978 Wh</div>
<div class="act" style="left:2773px;top:1225px"><svg width="30" height="30" viewBox="0 0 30 30"><defs><linearGradient id="rg" x1="0" y1="0" x2="0" y2="1"><stop offset="0" stop-color="#f2a898"/><stop offset="0.45" stop-color="#e67a66"/><stop offset="1" stop-color="#d9594a"/></linearGradient></defs><circle cx="15" cy="15" r="13.8" fill="#d66a5a"/><circle cx="15" cy="15" r="11.6" fill="url(#rg)" stroke="#eca193" stroke-width="1.4"/><rect x="9" y="13" width="11.5" height="3.6" fill="#fff"/></svg></div>
<div class="act" style="left:2805px;top:1225px"><svg width="30" height="30" viewBox="0 0 30 30"><defs><linearGradient id="bgr" x1="0" y1="0" x2="0" y2="1"><stop offset="0" stop-color="#8eb0dc"/><stop offset="1" stop-color="#5f84c2"/></linearGradient></defs><circle cx="15" cy="15" r="13.8" fill="#5a80c4"/><circle cx="15" cy="15" r="11.6" fill="url(#bgr)" stroke="#a6bfe0" stroke-width="1.4"/><rect x="13.3" y="7.3" width="3.6" height="2.8" fill="#fff"/><path d="M13.3 11.6 L16.9 11.6 L16.9 19.6 L18.6 19.6 L18.6 21.6 L11.6 21.6 L11.6 19.6 L13.3 19.6 Z" fill="#fff"/></svg></div>
<div class="sw" style="top:1268px;background:#7985c8"><div class="cbx"></div></div>
<div class="sep" style="top:1312px"></div>
<div class="bolt" style="top:1278px"><svg width="32" height="30" viewBox="0 0 32 30"><defs><linearGradient id="bg" x1="0" y1="0" x2="1" y2="1"><stop offset="0" stop-color="#f6e497"/><stop offset="0.5" stop-color="#ecd06a"/><stop offset="1" stop-color="#dcae4a"/></linearGradient></defs><path d="M7.5 1.1 L28.8 1.3 L19.5 12.4 L31 13.6 L7.5 29.1 L10.8 18.8 L1.1 18.8 L1.1 14.7 Z" fill="url(#bg)" stroke="#e0b548" stroke-width="1.3" stroke-linejoin="round"/><path d="M10.5 4.5 L20 4.5 L16 13.5 L8 13.5 Z" fill="#ecd158" opacity="0.8"/><path d="M9.5 3.2 L24.5 3.3 L17.5 12.5" fill="none" stroke="#f8eaa6" stroke-width="1.2"/></svg></div>
<div class="t32" style="left:147px;top:1271.9px">Verbrauch Waschmaschine</div>
<div class="t32" style="left:890.8px;top:1271.9px">El. Energie (Leistungswerte)</div>
<div class="t32 r" style="right:1036px;top:1271.9px">0 W</div>
<div class="t32 r" style="right:816px;top:1271.9px">1.97 kW</div>
<div class="t32 r" style="right:625.5px;top:1271.9px">13.6 W</div>
<div class="t32 r" style="right:434.5px;top:1271.9px">0 W</div>
<div class="t32 r" style="right:179px;top:1271.9px">651 Wh</div>
<div class="act" style="left:2773px;top:1271px"><svg width="30" height="30" viewBox="0 0 30 30"><defs><linearGradient id="rg" x1="0" y1="0" x2="0" y2="1"><stop offset="0" stop-color="#f2a898"/><stop offset="0.45" stop-color="#e67a66"/><stop offset="1" stop-color="#d9594a"/></linearGradient></defs><circle cx="15" cy="15" r="13.8" fill="#d66a5a"/><circle cx="15" cy="15" r="11.6" fill="url(#rg)" stroke="#eca193" stroke-width="1.4"/><rect x="9" y="13" width="11.5" height="3.6" fill="#fff"/></svg></div>
<div class="act" style="left:2805px;top:1271px"><svg width="30" height="30" viewBox="0 0 30 30"><defs><linearGradient id="bgr" x1="0" y1="0" x2="0" y2="1"><stop offset="0" stop-color="#8eb0dc"/><stop offset="1" stop-color="#5f84c2"/></linearGradient></defs><circle cx="15" cy="15" r="13.8" fill="#5a80c4"/><circle cx="15" cy="15" r="11.6" fill="url(#bgr)" stroke="#a6bfe0" stroke-width="1.4"/><rect x="13.3" y="7.3" width="3.6" height="2.8" fill="#fff"/><path d="M13.3 11.6 L16.9 11.6 L16.9 19.6 L18.6 19.6 L18.6 21.6 L11.6 21.6 L11.6 19.6 L13.3 19.6 Z" fill="#fff"/></svg></div>
<div class="sw" style="top:1314px;background:#5e2596"><svg width="24" height="24" viewBox="0 0 24 24"><defs><linearGradient id="cb" x1="0" y1="0" x2="0" y2="1"><stop offset="0" stop-color="#4f94f7"/><stop offset="1" stop-color="#2a72ef"/></linearGradient></defs><rect x="0" y="0" width="24" height="24" rx="5" fill="url(#cb)"/><path d="M5.5 12.5 L10 17 L18.5 6.5" fill="none" stroke="#fff" stroke-width="3" stroke-linecap="round" stroke-linejoin="round"/></svg></div>

<div class="bolt" style="top:1324px"><svg width="32" height="30" viewBox="0 0 32 30"><defs><linearGradient id="bg" x1="0" y1="0" x2="1" y2="1"><stop offset="0" stop-color="#f6e497"/><stop offset="0.5" stop-color="#ecd06a"/><stop offset="1" stop-color="#dcae4a"/></linearGradient></defs><path d="M7.5 1.1 L28.8 1.3 L19.5 12.4 L31 13.6 L7.5 29.1 L10.8 18.8 L1.1 18.8 L1.1 14.7 Z" fill="url(#bg)" stroke="#e0b548" stroke-width="1.3" stroke-linejoin="round"/><path d="M10.5 4.5 L20 4.5 L16 13.5 L8 13.5 Z" fill="#ecd158" opacity="0.8"/><path d="M9.5 3.2 L24.5 3.3 L17.5 12.5" fill="none" stroke="#f8eaa6" stroke-width="1.2"/></svg></div>
<div class="t32" style="left:147px;top:1317.9px">Verbrauch Wohnung</div>
<div class="t32" style="left:890.8px;top:1317.9px">El. Energie (Leistungswerte)</div>
<div class="t32 r" style="right:1036px;top:1317.9px">141 W</div>
<div class="t32 r" style="right:816px;top:1317.9px">2.19 kW</div>
<div class="t32 r" style="right:625.5px;top:1317.9px">247 W</div>
<div class="t32 r" style="right:434.5px;top:1317.9px">235 W</div>
<div class="t32 r" style="right:179px;top:1317.9px">11.9 kWh</div>
<div class="act" style="left:2773px;top:1317px"><svg width="30" height="30" viewBox="0 0 30 30"><defs><linearGradient id="rg" x1="0" y1="0" x2="0" y2="1"><stop offset="0" stop-color="#f2a898"/><stop offset="0.45" stop-color="#e67a66"/><stop offset="1" stop-color="#d9594a"/></linearGradient></defs><circle cx="15" cy="15" r="13.8" fill="#d66a5a"/><circle cx="15" cy="15" r="11.6" fill="url(#rg)" stroke="#eca193" stroke-width="1.4"/><rect x="9" y="13" width="11.5" height="3.6" fill="#fff"/></svg></div>
<div class="act" style="left:2805px;top:1317px"><svg width="30" height="30" viewBox="0 0 30 30"><defs><linearGradient id="bgr" x1="0" y1="0" x2="0" y2="1"><stop offset="0" stop-color="#8eb0dc"/><stop offset="1" stop-color="#5f84c2"/></linearGradient></defs><circle cx="15" cy="15" r="13.8" fill="#5a80c4"/><circle cx="15" cy="15" r="11.6" fill="url(#bgr)" stroke="#a6bfe0" stroke-width="1.4"/><rect x="13.3" y="7.3" width="3.6" height="2.8" fill="#fff"/><path d="M13.3 11.6 L16.9 11.6 L16.9 19.6 L18.6 19.6 L18.6 21.6 L11.6 21.6 L11.6 19.6 L13.3 19.6 Z" fill="#fff"/></svg></div>

<div class="addbtn"><span class="pi"><svg width="30" height="30" viewBox="0 0 30 30"><circle cx="15" cy="15" r="14" fill="#7cbf6a"/><circle cx="15" cy="15" r="11" fill="#92cf80"/><rect x="8.5" y="13" width="13" height="4" fill="#fff"/><rect x="13" y="8.5" width="4" height="13" fill="#fff"/></svg></span><span class="at">Kanal hinzufügen</span></div>
</body>
</html>
